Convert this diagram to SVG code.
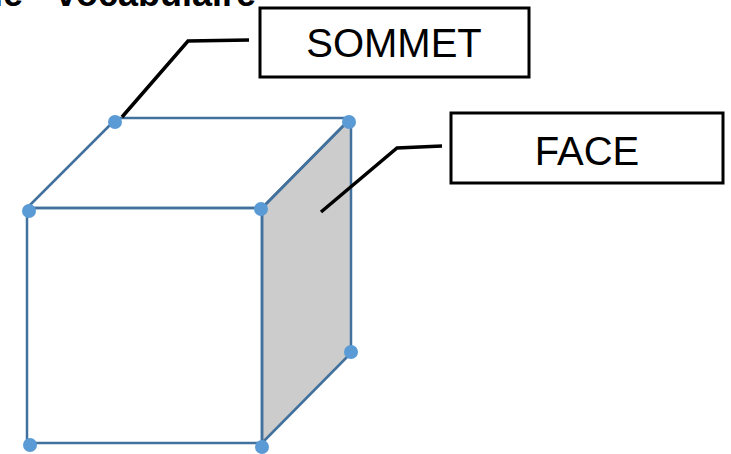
<svg xmlns="http://www.w3.org/2000/svg" width="731" height="454" viewBox="0 0 731 454">
<style>
.edge{fill:none;stroke:#41719C;stroke-width:2.5;stroke-linejoin:round}
.face{fill:#CCCCCC;stroke:#41719C;stroke-width:2.5;stroke-linejoin:round}
.dot{fill:#5B9BD5}
.lead{fill:none;stroke:#000;stroke-width:3.5}
.box{fill:#fff;stroke:#000;stroke-width:3}
.lbl{font-family:"Liberation Sans",Arial,sans-serif;font-size:40px;fill:#000;text-anchor:middle}
.title{font-family:"Liberation Sans",Arial,sans-serif;font-size:36px;font-weight:bold;fill:#000}
</style>
<text class="title" y="6"><tspan x="-7">le</tspan><tspan x="56">vocabulaire</tspan></text>
<g id="cube">
<polygon class="face" points="262,208 351,118 351,353 262,443"/>
<polygon class="edge" points="27,208 117,118 351,118 262,208"/>
<rect class="edge" x="27" y="208" width="235" height="235"/>
</g>
<g id="vertices">
<circle class="dot" cx="115" cy="122" r="7"/>
<circle class="dot" cx="349" cy="122" r="7"/>
<circle class="dot" cx="29" cy="211" r="7"/>
<circle class="dot" cx="261" cy="209" r="7"/>
<circle class="dot" cx="351" cy="352" r="7"/>
<circle class="dot" cx="30" cy="445" r="7"/>
<circle class="dot" cx="262" cy="447" r="7"/>
</g>
<g id="connectors">
<polyline class="lead" points="122,117 188,41 249,40"/>
<polyline class="lead" points="321,212 397,148 442,146"/>
</g>
<g id="sommet">
<rect class="box" x="260" y="8" width="269" height="69"/>
<text class="lbl" x="394" y="57">SOMMET</text>
</g>
<g id="face">
<rect class="box" x="451" y="113" width="272" height="70"/>
<text class="lbl" x="587" y="165">FACE</text>
</g>
</svg>
